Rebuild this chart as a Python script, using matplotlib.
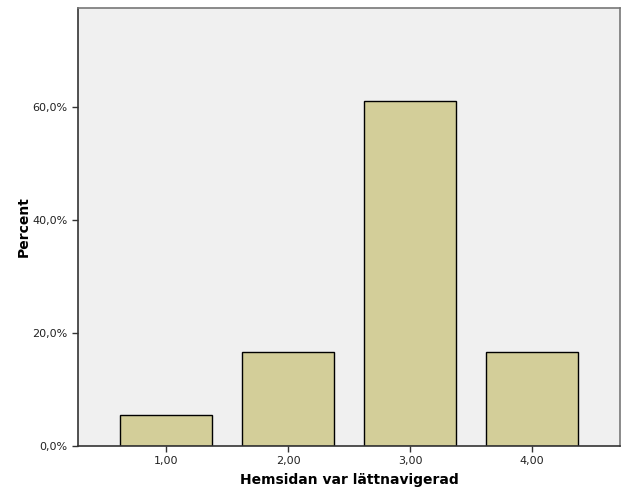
import numpy as np
import matplotlib.pyplot as plt
from matplotlib.ticker import FuncFormatter

kategorier = [1, 2, 3, 4]
kategori_etiketter = ["1,00", "2,00", "3,00", "4,00"]
procent = [5.56, 16.67, 61.11, 16.67]
y_ticks = [0, 20, 40, 60]

fig = plt.figure(figsize=(6.29, 5.04), dpi=100)
ax = fig.add_axes([0.124, 0.115, 0.8617, 0.869])
ax.set_facecolor("#f0f0f0")

ax.bar(kategorier, procent, width=0.754, color="#d3ce99", edgecolor="black", linewidth=1.0)

ax.set_xlim(0.279, 4.721)
ax.set_ylim(0, 77.5)
ax.set_xticks(kategorier)
ax.set_xticklabels(kategori_etiketter)
ax.set_yticks(y_ticks)
ax.yaxis.set_major_formatter(FuncFormatter(lambda v, p: f"{v:.1f}%".replace(".", ",")))
ax.tick_params(axis="both", labelsize=8, length=4, width=1, color="#333333", labelcolor="#222222")

for side in ["left", "bottom"]:
    ax.spines[side].set_color("#333333")
    ax.spines[side].set_linewidth(1.2)
for side in ["top", "right"]:
    ax.spines[side].set_color("#777777")
    ax.spines[side].set_linewidth(1.2)

ax.set_xlabel("Hemsidan var lättnavigerad", fontsize=10, fontweight="bold", labelpad=5)
ax.set_ylabel("Percent", fontsize=10, fontweight="bold", labelpad=1)

fig.savefig("out.png", dpi=100)
